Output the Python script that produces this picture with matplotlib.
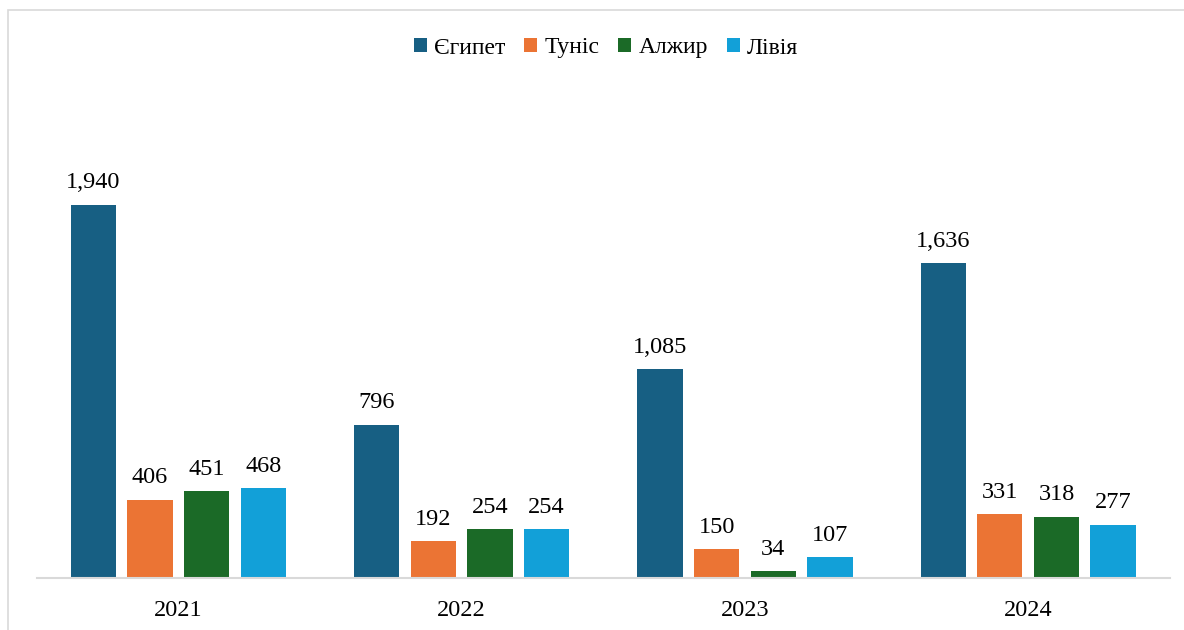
import numpy as np
import matplotlib.pyplot as plt
from matplotlib.patches import Rectangle

years = ['2021', '2022', '2023', '2024']
countries = ['Єгипет', 'Туніс', 'Алжир', 'Лівія']
egypt = [1940, 796, 1085, 1636]
tunisia = [406, 192, 150, 331]
algeria = [451, 254, 34, 318]
libya = [468, 254, 107, 277]
colors = ['#175F83', '#EB7434', '#1B6A27', '#12A0D8']

plt.rcParams['font.family'] = ['Liberation Serif', 'DejaVu Serif']

fig = plt.figure(figsize=(11.84, 6.3), dpi=100)
ax = fig.add_axes([0.031, 0.0825, 0.957, 0.763])

# chart frame
fig.patches.append(Rectangle((8 / 1184, -0.05), 1.2, 1 - 10 / 630 + 0.05,
                             transform=fig.transFigure, fill=False,
                             edgecolor='#D9D9D9', linewidth=1.2))

x = np.arange(len(years))
width = 0.2
series = [egypt, tunisia, algeria, libya]
for i, (name, vals) in enumerate(zip(countries, series)):
    pos = x + (i - 1.5) * width
    bars = ax.bar(pos, vals, width * 0.8, color=colors[i], label=name)
    for b, v in zip(bars, vals):
        ax.text(b.get_x() + b.get_width() / 2, v + 60, f'{v:,}',
                ha='center', va='bottom', fontsize=17.5)

ax.set_xlim(-0.5, 3.5)
ax.set_ylim(0, 2500)
ax.set_xticks(x)
ax.set_xticklabels(years, fontsize=17.5)
ax.tick_params(axis='x', length=0, pad=16)
ax.set_yticks([])
for s in ['top', 'right', 'left']:
    ax.spines[s].set_visible(False)
ax.spines['bottom'].set_color('#D9D9D9')
ax.spines['bottom'].set_linewidth(1.5)

fig.legend(loc='center', bbox_to_anchor=(606 / 1184, 1 - 48 / 630), ncol=4,
           frameon=False, fontsize=17, handlelength=0.55, handleheight=0.55,
           handletextpad=0.3, columnspacing=0.8)

fig.savefig('out.png', dpi=100)
